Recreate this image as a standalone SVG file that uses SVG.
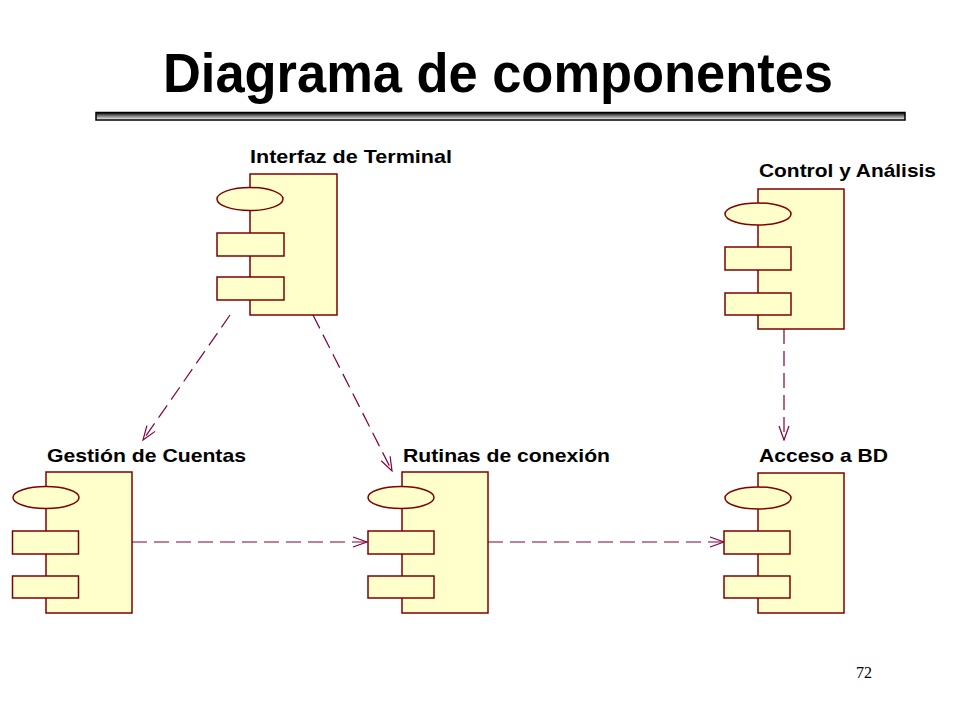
<svg xmlns="http://www.w3.org/2000/svg" width="960" height="720" viewBox="0 0 960 720">
<defs>
<linearGradient id="bar" x1="0" y1="0" x2="0" y2="1">
<stop offset="0" stop-color="#000"/>
<stop offset="0.3" stop-color="#555"/>
<stop offset="1" stop-color="#fff"/>
</linearGradient>
<marker id="arr" viewBox="0 0 16 12" refX="15" refY="6" markerWidth="16" markerHeight="12" markerUnits="userSpaceOnUse" orient="auto">
<path d="M1,1 L15,6 L1,11" fill="none" stroke="#800040" stroke-width="1.2"/>
</marker>
</defs>
<style>
.body{fill:#FFFFCC;stroke:#800000;stroke-width:1.5}
.lbl{font-family:"Liberation Sans",Arial,sans-serif;font-size:19px;font-weight:bold;fill:#000}
.dep{fill:none;stroke:#800040;stroke-width:1.2;stroke-dasharray:15 7;marker-end:url(#arr)}
</style>
<rect width="960" height="720" fill="#fff"/>
<text x="163" y="92" font-family="'Liberation Sans',Arial,sans-serif" font-size="56" font-weight="bold" textLength="670" lengthAdjust="spacingAndGlyphs">Diagrama de componentes</text>
<rect x="96" y="112.5" width="809" height="7.5" fill="url(#bar)" stroke="#000" stroke-width="1.5"/>

<g id="connectors">
<line class="dep" x1="230" y1="315" x2="143" y2="440"/>
<line class="dep" x1="313" y1="315" x2="392" y2="471"/>
<line class="dep" x1="784" y1="329" x2="784" y2="440"/>
<line class="dep" x1="132" y1="542" x2="367" y2="542"/>
<line class="dep" x1="488" y1="542" x2="724" y2="542"/>
</g>

<g id="interfaz-terminal">
<rect class="body" x="250" y="174" width="87" height="141"/>
<ellipse class="body" cx="250" cy="199" rx="33" ry="11.5"/>
<rect class="body" x="217" y="233" width="67" height="23"/>
<rect class="body" x="217" y="277" width="67" height="23"/>
<text class="lbl" x="250" y="163" textLength="202" lengthAdjust="spacingAndGlyphs">Interfaz de Terminal</text>
</g>

<g id="control-analisis">
<rect class="body" x="758" y="189" width="86" height="140"/>
<ellipse class="body" cx="758" cy="214" rx="33" ry="11"/>
<rect class="body" x="725" y="247" width="66" height="23"/>
<rect class="body" x="725" y="293" width="66" height="22"/>
<text class="lbl" x="759" y="177" textLength="177" lengthAdjust="spacingAndGlyphs">Control y Análisis</text>
</g>

<g id="gestion-cuentas">
<rect class="body" x="46" y="472" width="86" height="141"/>
<ellipse class="body" cx="46" cy="497.5" rx="33" ry="11"/>
<rect class="body" x="12.5" y="531" width="66" height="23"/>
<rect class="body" x="12.5" y="576" width="66" height="22"/>
<text class="lbl" x="47" y="462" textLength="199" lengthAdjust="spacingAndGlyphs">Gestión de Cuentas</text>
</g>

<g id="rutinas-conexion">
<rect class="body" x="402" y="472" width="86" height="141"/>
<ellipse class="body" cx="401" cy="497.5" rx="33" ry="11"/>
<rect class="body" x="368" y="531" width="66" height="23"/>
<rect class="body" x="368" y="576" width="66" height="22"/>
<text class="lbl" x="403" y="462" textLength="207" lengthAdjust="spacingAndGlyphs">Rutinas de conexión</text>
</g>

<g id="acceso-bd">
<rect class="body" x="758" y="473" width="86" height="140"/>
<ellipse class="body" cx="758" cy="498" rx="33" ry="11"/>
<rect class="body" x="724" y="531" width="66" height="23"/>
<rect class="body" x="724" y="576" width="66" height="22"/>
<text class="lbl" x="759" y="462" textLength="129" lengthAdjust="spacingAndGlyphs">Acceso a BD</text>
</g>

<text x="856" y="678" font-family="'Liberation Serif','Times New Roman',serif" font-size="16" fill="#000">72</text>
</svg>
